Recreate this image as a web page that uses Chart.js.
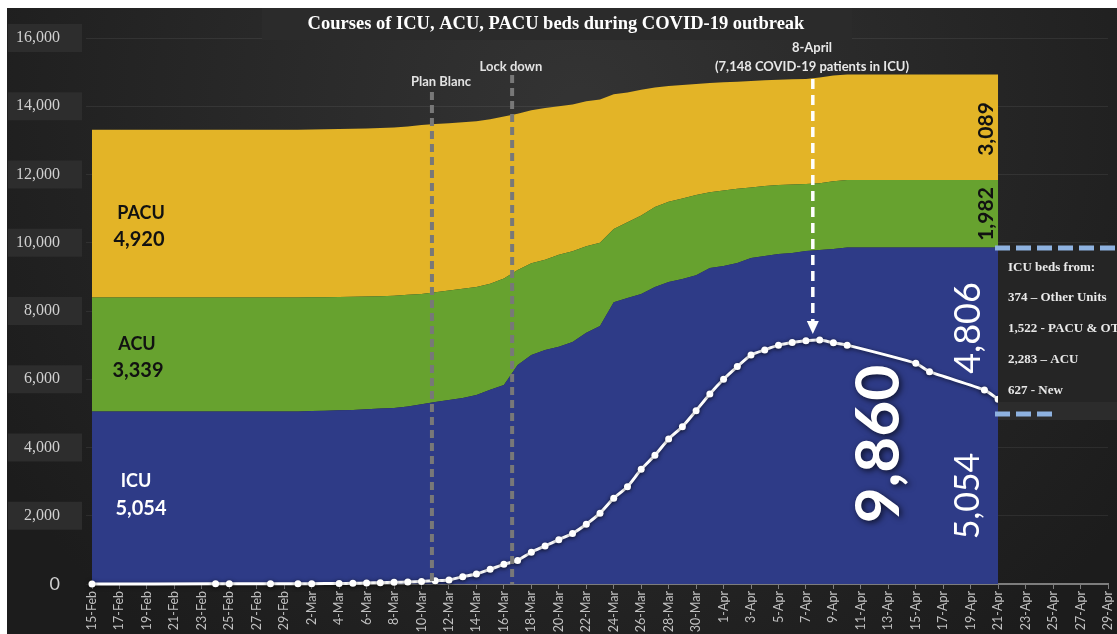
<!DOCTYPE html>
<html lang="en">
<head>
    <meta charset="UTF-8">
    <title>Courses of ICU, ACU, PACU beds during COVID-19 outbreak</title>
    <script src="https://cdn.jsdelivr.net/npm/chart.js"></script>
    <style>
        html, body {
            margin: 0;
            padding: 0;
            background: #fff;
        }
        .wrap {
            position: relative;
            width: 1117px;
            height: 634px;
        }
    </style>
</head>
<body>
    <div class="wrap"><canvas id="bedsChart" width="1117" height="634"></canvas></div>
    <script>
        const chartTitle = 'Courses of ICU, ACU, PACU beds during COVID-19 outbreak';

        const dates = [
            '15-Feb', '16-Feb', '17-Feb', '18-Feb', '19-Feb', '20-Feb', '21-Feb', '22-Feb', '23-Feb', '24-Feb',
            '25-Feb', '26-Feb', '27-Feb', '28-Feb', '29-Feb',
            '1-Mar', '2-Mar', '3-Mar', '4-Mar', '5-Mar', '6-Mar', '7-Mar', '8-Mar', '9-Mar', '10-Mar',
            '11-Mar', '12-Mar', '13-Mar', '14-Mar', '15-Mar', '16-Mar', '17-Mar', '18-Mar', '19-Mar', '20-Mar',
            '21-Mar', '22-Mar', '23-Mar', '24-Mar', '25-Mar', '26-Mar', '27-Mar', '28-Mar', '29-Mar', '30-Mar', '31-Mar',
            '1-Apr', '2-Apr', '3-Apr', '4-Apr', '5-Apr', '6-Apr', '7-Apr', '8-Apr', '9-Apr', '10-Apr',
            '11-Apr', '12-Apr', '13-Apr', '14-Apr', '15-Apr', '16-Apr', '17-Apr', '18-Apr', '19-Apr', '20-Apr',
            '21-Apr', '22-Apr', '23-Apr', '24-Apr', '25-Apr', '26-Apr', '27-Apr', '28-Apr', '29-Apr'
        ];

        // beds per unit, stacked (15-Feb .. 21-Apr)
        const icuBeds = [
            5054, 5054, 5054, 5054, 5054, 5054, 5054, 5054, 5054, 5054, 5054, 5054, 5054, 5054, 5054, 5054,
            5070, 5080, 5090, 5100, 5120, 5140, 5160, 5200, 5270, 5330, 5390, 5450, 5540, 5690, 5830,
            6420, 6710, 6860, 6950, 7090, 7360, 7560, 8260, 8380, 8500, 8700, 8850, 8940, 9050, 9260,
            9320, 9410, 9550, 9610, 9670, 9700, 9760, 9790, 9820,
            9860, 9860, 9860, 9860, 9860, 9860, 9860, 9860, 9860, 9860, 9860, 9860
        ];
        const acuBeds = [
            3339, 3339, 3339, 3339, 3339, 3339, 3339, 3339, 3339, 3339, 3339, 3339, 3339, 3339, 3339, 3339,
            3330, 3325, 3320, 3315, 3305, 3295, 3290, 3275, 3230, 3220, 3210, 3200, 3160, 3110, 3120,
            2780, 2690, 2640, 2700, 2660, 2540, 2440, 2140, 2220, 2300, 2350, 2350, 2360, 2350, 2220,
            2210, 2170, 2070, 2050, 2020, 2010, 1960, 1950, 1980,
            1982, 1982, 1982, 1982, 1982, 1982, 1982, 1982, 1982, 1982, 1982, 1982
        ];
        const pacuBeds = [
            4920, 4920, 4920, 4920, 4920, 4920, 4920, 4920, 4920, 4920, 4920, 4920, 4920, 4920, 4920, 4920,
            4920, 4920, 4925, 4925, 4925, 4930, 4930, 4935, 4950, 4930, 4900, 4880, 4860, 4820, 4750,
            4580, 4480, 4450, 4350, 4300, 4250, 4200, 3950, 3800, 3680, 3500, 3390, 3320, 3250, 3200,
            3170, 3140, 3120, 3100, 3090, 3080, 3080, 3100, 3100,
            3089, 3089, 3089, 3089, 3089, 3089, 3089, 3089, 3089, 3089, 3089, 3089
        ];
        // COVID-19 patients in ICU (null = no report)
        const icuPatients = [
            0, null, null, null, null, null, null, null, null, 5,
            5, null, null, 8, null,
            10, 10, null, 15, 20, 30, 40, 50, 60, 75,
            97, 120, 215, 293, 430, 577, 690, 930, 1115, 1300,
            1480, 1750, 2075, 2515, 2850, 3360, 3770, 4250, 4610, 5080, 5570,
            6000, 6370, 6710, 6860, 7000, 7080, 7131, 7148, 7070, 7000,
            null, null, null, null, 6467, 6222, null, null, null, 5685,
            5413
        ];

        const yTickValues = [0, 2000, 4000, 6000, 8000, 10000, 12000, 14000, 16000];
        const yTickLabels = ['0', '2,000', '4,000', '6,000', '8,000', '10,000', '12,000', '14,000', '16,000'];

        const eventNames = ['Plan Blanc', 'Lock down'];
        const eventDays = [24.76, 30.6];     // fractional day index on the date axis
        const peakDay = 52.5;
        const peakLabels = ['8-April', '(7,148 COVID-19 patients in ICU)'];
        const icuSources = ['ICU beds from:', '374 \u2013 Other Units', '1,522 - PACU & OT', '2,283 \u2013 ACU', '627 - New'];

        function vText(ctx, s, x, y, font, color) {
            ctx.save();
            ctx.translate(x, y);
            ctx.rotate(-Math.PI / 2);
            ctx.font = font;
            ctx.fillStyle = color;
            ctx.textAlign = 'center';
            ctx.textBaseline = 'middle';
            ctx.fillText(s, 0, 0);
            ctx.restore();
        }

        const decor = {
            id: 'decor',
            beforeDraw(chart) {
                const { ctx, width, height, scales: { y } } = chart;
                ctx.save();
                ctx.fillStyle = '#fff';
                ctx.fillRect(0, 0, width, height);
                const g = ctx.createRadialGradient(580, 110, 20, 580, 110, 680);
                g.addColorStop(0, '#333333');
                g.addColorStop(1, '#1c1c1c');
                ctx.fillStyle = g;
                ctx.fillRect(7, 8, width - 7, height - 8);
                // boxes behind the y tick labels
                ctx.fillStyle = '#2d2d2d';
                y.ticks.forEach(t => {
                    if (t.value > 0) {
                        const py = y.getPixelForValue(t.value);
                        ctx.fillRect(8, py - 14, 74, 28);
                    }
                });
                ctx.restore();
            },
            beforeDatasetDraw(chart, args) {
                if (args.index === 3) {
                    chart.ctx.save();
                    chart.ctx.shadowColor = 'rgba(0,0,0,0.6)';
                    chart.ctx.shadowBlur = 4;
                    chart.ctx.shadowOffsetY = 1;
                }
            },
            afterDatasetDraw(chart, args) {
                if (args.index === 3) chart.ctx.restore();
            },
            afterDatasetsDraw(chart) {
                const { ctx, scales: { x, y } } = chart;
                ctx.save();

                // title
                ctx.fillStyle = '#2b2b2b';
                ctx.fillRect(262, 8, 590, 32);
                ctx.fillStyle = '#fff';
                ctx.font = 'bold 18.5px "Liberation Serif"';
                ctx.textAlign = 'center';
                ctx.textBaseline = 'middle';
                ctx.fillText(chartTitle, 556, 24);

                // Plan Blanc / Lock down
                const tops = [92, 75];
                const labelPos = [[441, 82], [511, 67]];
                eventDays.forEach((d, i) => {
                    const px = x.getPixelForValue(d);
                    ctx.setLineDash([8, 5]);
                    ctx.strokeStyle = '#787878';
                    ctx.lineWidth = 4;
                    ctx.beginPath();
                    ctx.moveTo(px, tops[i]);
                    ctx.lineTo(px, y.bottom);
                    ctx.stroke();
                    ctx.setLineDash([]);
                    ctx.fillStyle = '#e2e2e2';
                    ctx.font = 'bold 13px Lato';
                    ctx.fillText(eventNames[i], labelPos[i][0], labelPos[i][1]);
                });

                // 8-April arrow
                const ax = x.getPixelForValue(peakDay);
                ctx.setLineDash([10, 6]);
                ctx.strokeStyle = '#fff';
                ctx.lineWidth = 3.5;
                ctx.beginPath();
                ctx.moveTo(ax, 79);
                ctx.lineTo(ax, 322);
                ctx.stroke();
                ctx.setLineDash([]);
                ctx.fillStyle = '#fff';
                ctx.beginPath();
                ctx.moveTo(ax - 6, 321);
                ctx.lineTo(ax + 6, 321);
                ctx.lineTo(ax, 334);
                ctx.closePath();
                ctx.fill();
                ctx.fillStyle = '#e8e8e8';
                ctx.font = 'bold 13px Lato';
                ctx.fillText(peakLabels[0], 812, 48);
                ctx.fillText(peakLabels[1], 812, 67);

                // unit labels on the left
                ctx.fillStyle = '#111';
                ctx.font = 'bold 18px Lato';
                ctx.fillText('PACU', 141, 213);
                ctx.font = 'bold 20px Lato';
                ctx.fillText('4,920', 139, 240);
                ctx.font = 'bold 18px Lato';
                ctx.fillText('ACU', 137, 344);
                ctx.font = 'bold 20px Lato';
                ctx.fillText('3,339', 138, 371);
                ctx.fillStyle = '#fff';
                ctx.font = 'bold 18px Lato';
                ctx.fillText('ICU', 136, 481);
                ctx.font = 'bold 20px Lato';
                ctx.fillText('5,054', 141, 509);

                // vertical numbers on the right
                vText(ctx, '3,089', 986, 129, 'bold 21px Lato', '#111');
                vText(ctx, '1,982', 986, 214, 'bold 21px Lato', '#111');
                vText(ctx, '4,806', 968, 328, '36px Lato', '#fff');
                vText(ctx, '5,054', 968, 496, '34px Lato', '#fff');
                ctx.save();
                ctx.shadowColor = 'rgba(0,0,0,0.7)';
                ctx.shadowBlur = 6;
                ctx.shadowOffsetX = 2;
                ctx.shadowOffsetY = 2;
                vText(ctx, '9,860', 879, 444, 'bold 62px Lato', '#fff');
                ctx.restore();

                // ICU beds source box
                ctx.fillStyle = '#252525';
                ctx.fillRect(998, 250, 119, 164);
                ctx.fillStyle = '#2c2c2c';
                ctx.fillRect(998, 402, 119, 18);
                ctx.strokeStyle = '#8eb2e0';
                ctx.lineWidth = 5;
                ctx.setLineDash([15, 6]);
                ctx.beginPath();
                ctx.moveTo(995, 248);
                ctx.lineTo(1117, 248);
                ctx.stroke();
                ctx.beginPath();
                ctx.moveTo(995, 414);
                ctx.lineTo(1053, 414);
                ctx.stroke();
                ctx.setLineDash([]);
                ctx.fillStyle = '#e8e8e8';
                ctx.font = 'bold 13px "Liberation Serif"';
                ctx.textAlign = 'left';
                const rows = [268, 298, 329, 360, 391];
                icuSources.forEach((s, i) => ctx.fillText(s, 1008, rows[i]));

                ctx.restore();
            }
        };

        const areaStyle = {
            stack: 'beds',
            borderWidth: 0,
            borderColor: 'rgba(0,0,0,0)',
            pointRadius: 0,
            tension: 0,
            order: 1
        };

        new Chart(document.getElementById('bedsChart'), {
            type: 'line',
            data: {
                labels: dates,
                datasets: [
                    { ...areaStyle, label: 'ICU', data: icuBeds, fill: 'origin', backgroundColor: '#2e3b87' },
                    { ...areaStyle, label: 'ACU', data: acuBeds, fill: '-1', backgroundColor: '#67a22f' },
                    { ...areaStyle, label: 'PACU', data: pacuBeds, fill: '-1', backgroundColor: '#e3b427' },
                    {
                        label: 'COVID-19 patients in ICU',
                        data: icuPatients,
                        stack: 'patients',
                        fill: false,
                        spanGaps: true,
                        borderColor: '#fff',
                        borderWidth: 3,
                        pointRadius: 3.5,
                        pointBackgroundColor: '#fff',
                        pointBorderWidth: 0,
                        tension: 0.2,
                        clip: 8,
                        order: 0
                    }
                ]
            },
            options: {
                responsive: false,
                animation: false,
                layout: { padding: { top: 38, right: 9, left: 0, bottom: 0 } },
                plugins: {
                    legend: { display: false },
                    tooltip: { enabled: false }
                },
                scales: {
                    x: {
                        grid: {
                            drawOnChartArea: false,
                            tickLength: 5,
                            color: c => c.index % 2 === 0 ? '#7d7d7d' : 'rgba(0,0,0,0)'
                        },
                        border: { display: true, color: '#7d7d7d', width: 2 },
                        ticks: {
                            autoSkip: false,
                            minRotation: 90,
                            maxRotation: 90,
                            padding: 2,
                            color: '#c0c0c0',
                            font: { family: 'Lato', size: 12.5 },
                            callback: (v, i) => i % 2 === 0 ? dates[i] : ''
                        },
                        afterFit: s => {
                            s.height = 50;
                            s.paddingLeft = 0;
                            s.paddingRight = 0;
                        }
                    },
                    y: {
                        stacked: true,
                        min: 0,
                        max: 16000,
                        grid: { color: 'rgba(255,255,255,0.07)', tickLength: 6 },
                        border: { display: false },
                        afterBuildTicks: s => { s.ticks = yTickValues.map(v => ({ value: v })); },
                        ticks: {
                            padding: 26,
                            color: '#d0d0d0',
                            font: c => c.tick && c.tick.value === 0
                                ? { family: 'Lato', size: 18 }
                                : { family: '"Liberation Serif"', size: 16 },
                            callback: (v, i) => yTickLabels[i]
                        },
                        afterFit: s => { s.width = 92; }
                    }
                }
            },
            plugins: [decor]
        });
    </script>
</body>
</html>
